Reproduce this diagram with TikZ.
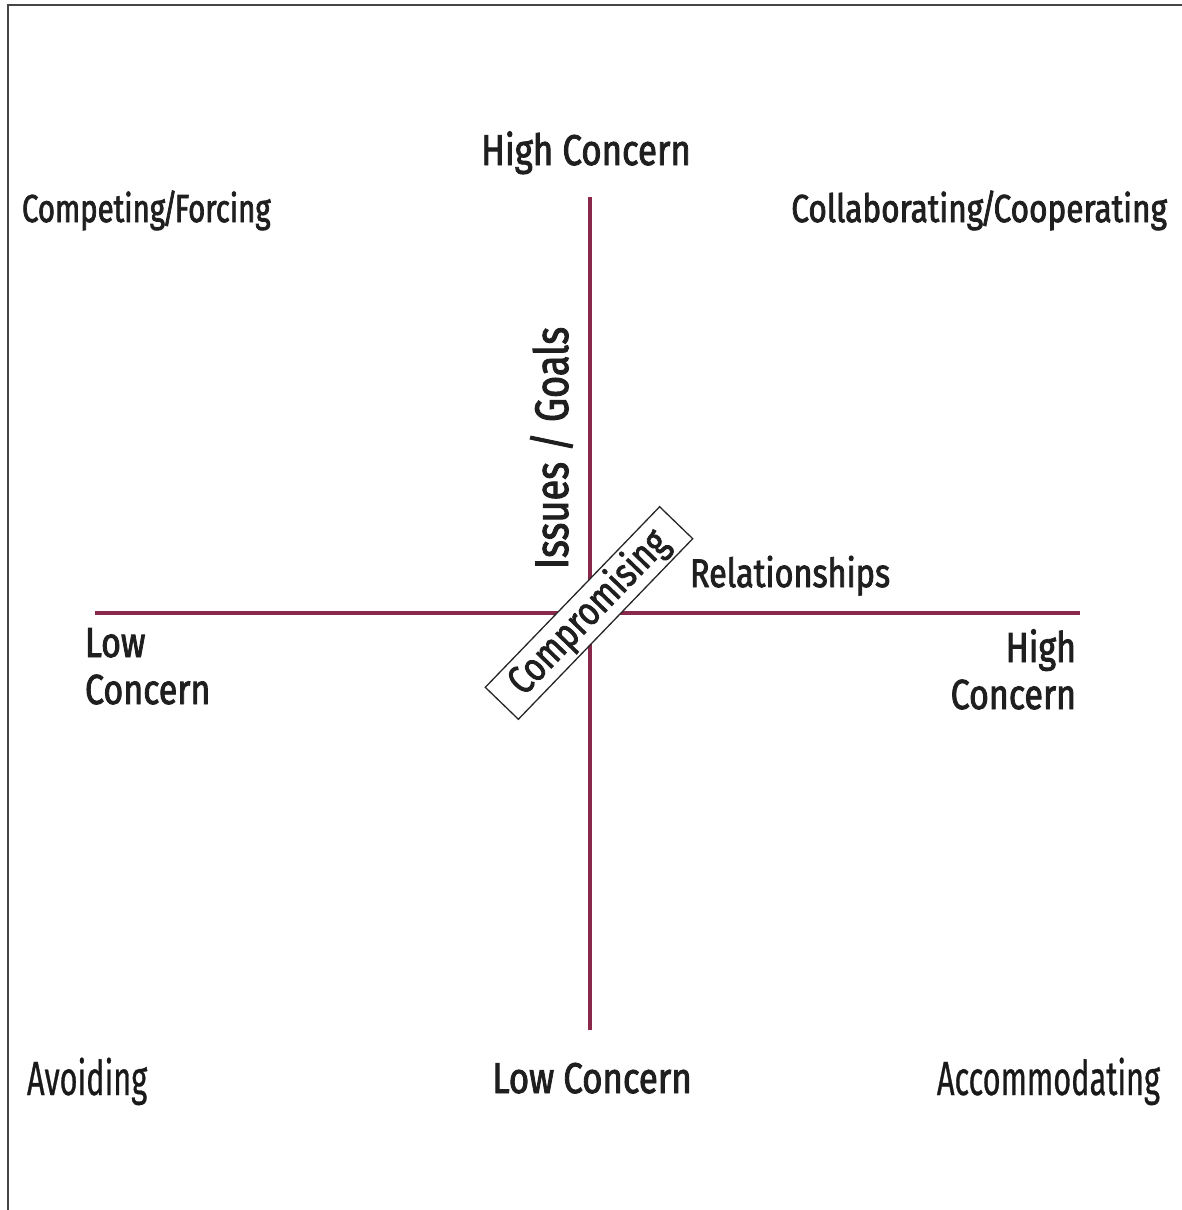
\documentclass[tikz,border=0pt]{standalone}
\usepackage{fontspec}
\setmainfont{Fira Sans}
\newfontfamily\labfont[FakeStretch=0.81,FakeBold=2]{Fira Sans}
\newfontfamily\condfont[FakeStretch=0.64,FakeBold=0.6]{Fira Sans}
\definecolor{axiscol}{RGB}{138,40,76}
\definecolor{framecol}{RGB}{70,70,70}
\newcommand{\tslash}{\kern-3pt/\kern-3pt}
\tikzset{
  lab/.style={inner sep=0pt, outer sep=0pt, text=black!88, font=\labfont\fontsize{39}{45}\selectfont},
  sidelab/.style={lab, font=\labfont\fontsize{42}{46}\selectfont},
  biglab/.style={lab, font=\labfont\fontsize{43}{47}\selectfont},
  cond/.style={inner sep=0pt, outer sep=0pt, text=black!90, font=\condfont\fontsize{48}{52}\selectfont},
  axis/.style={draw=axiscol, line width=4.5pt},
  frameline/.style={draw=framecol, line width=2pt},
  compbox/.style={draw=black!85, line width=1.3pt, fill=white,
    minimum width=251pt, minimum height=46pt, inner sep=0pt, rotate=46,
    font=\labfont\fontsize{40}{44}\selectfont, text=black!88}
}
\begin{document}
\begin{tikzpicture}[x=1pt,y=-1pt]
\useasboundingbox (0,0) rectangle (1182,1210);
% frame (left and top edges)
\coordinate (fb) at (8,1210);
\coordinate (ftl) at (8,5);
\coordinate (ftr) at (1182,5);
\draw[frameline] (fb) -- (ftl) -- (ftr);
% axes
\coordinate (xl) at (95,613);
\coordinate (xr) at (1080,613);
\coordinate (yt) at (590,197);
\coordinate (yb) at (590,1030);
\draw[axis] (xl) -- (xr);
\draw[axis] (yt) -- (yb);
% labels
\node[biglab, anchor=base] (hct) at (586,165) {High Concern};
\node[biglab, anchor=base] (lcb) at (592,1093) {Low Concern};
\node[lab, anchor=base west] (cf) at (22,222) {\scalebox{0.93}[1]{Competing\tslash Forcing}};
\node[lab, anchor=base east] (cc) at (1167,222) {Collaborating\tslash Cooperating};
\node[biglab, anchor=base, rotate=90, font=\labfont\fontsize{47}{50}\selectfont] (ig) at (568,448) {Issues / Goals};
\node[lab, anchor=base west, font=\labfont\fontsize{40}{44}\selectfont] (rel) at (690,587) {Relationships};
\node[sidelab, anchor=base west] (lowa) at (85,657) {Low};
\node[sidelab, anchor=base west] (lowb) at (85,704) {Concern};
\node[sidelab, anchor=base east] (higha) at (1076,662) {High};
\node[sidelab, anchor=base east] (highb) at (1076,709) {Concern};
\node[compbox] (comp) at (589,613) {Compromising};
\node[cond, anchor=base west] (av) at (27,1095) {Avoiding};
\node[cond, anchor=base east] (acc) at (1160,1095) {Accommodating};
\end{tikzpicture}
\end{document}
